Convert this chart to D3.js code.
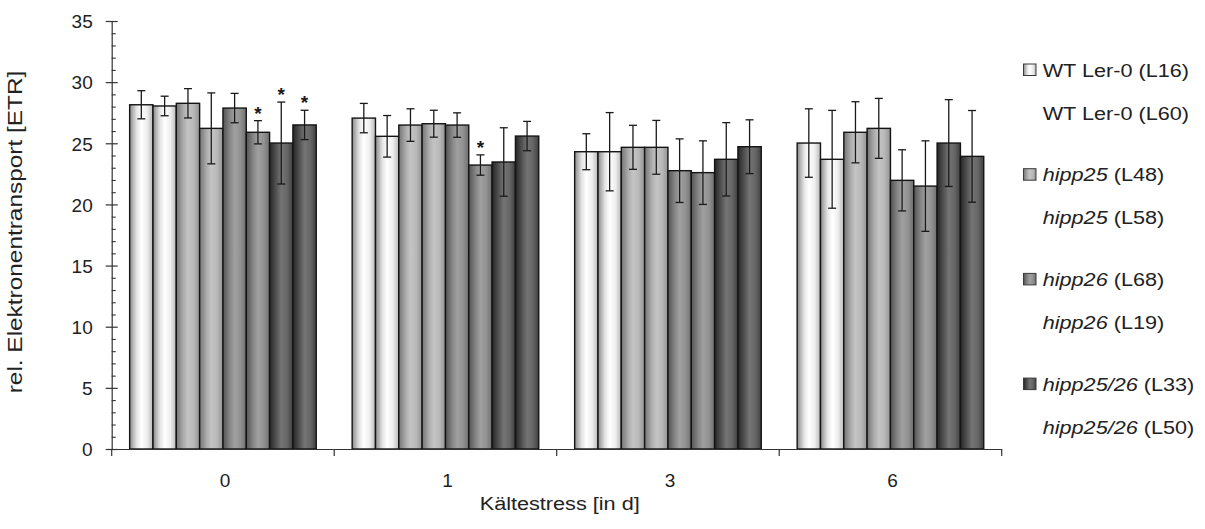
<!DOCTYPE html>
<html>
<head>
<meta charset="utf-8">
<script src="https://cdn.jsdelivr.net/npm/d3@7"></script>
<style>
  html, body { margin: 0; padding: 0; background: #fff; }
  svg { display: block; font-family: "Liberation Sans", Arial, sans-serif; }
</style>
</head>
<body>
<svg id="chart" width="1205" height="529"></svg>
<script>
// Cold stress duration (days) on the x axis
const days = ["0", "1", "3", "6"];

// Plant lines, in bar order
const lineIds = ["L16", "L60", "L48", "L58", "L68", "L19", "L33", "L50"];
const genotypes = ["WT Ler-0", "WT Ler-0", "hipp25", "hipp25", "hipp26", "hipp26", "hipp25/26", "hipp25/26"];

// Relative electron transport rate (mean per day)
const etrL16 = [28.15, 27.06, 24.31, 25.02];
const etrL60 = [28.05, 25.57, 24.31, 23.69];
const etrL48 = [28.27, 26.49, 24.67, 25.90];
const etrL58 = [26.22, 26.60, 24.67, 26.22];
const etrL68 = [27.88, 26.49, 22.76, 21.97];
const etrL19 = [25.90, 23.22, 22.60, 21.50];
const etrL33 = [25.02, 23.47, 23.69, 25.02];
const etrL50 = [26.50, 25.59, 24.72, 23.93];

// Standard deviations
const sdL16 = [1.15, 1.20, 1.47, 2.80];
const sdL60 = [0.80, 1.70, 3.20, 4.00];
const sdL48 = [1.20, 1.33, 1.80, 2.50];
const sdL58 = [2.90, 1.10, 2.20, 2.45];
const sdL68 = [1.20, 1.00, 2.60, 2.50];
const sdL19 = [0.95, 0.83, 2.60, 3.70];
const sdL33 = [3.35, 2.80, 3.00, 3.55];
const sdL50 = [1.20, 1.20, 2.20, 3.75];

// Significant differences (day, line)
const starred = [["0", "L19"], ["0", "L33"], ["0", "L50"], ["1", "L19"]];

// Y axis labels
const yTicks = [0, 5, 10, 15, 20, 25, 30, 35];

const means = [etrL16, etrL60, etrL48, etrL58, etrL68, etrL19, etrL33, etrL50];
const sds = [sdL16, sdL60, sdL48, sdL58, sdL68, sdL19, sdL33, sdL50];

// Cylinder-style shading, one ramp per genotype
const shades = [
  ["#8a8a8a", "#e4e4e4", "#ffffff", "#eeeeee", "#b8b8b8"],
  ["#747474", "#acacac", "#c4c4c4", "#b8b8b8", "#939393"],
  ["#545454", "#868686", "#a0a0a0", "#929292", "#6e6e6e"],
  ["#262626", "#555555", "#747474", "#666666", "#404040"]
];
const shadeOffsets = [0, 0.3, 0.5, 0.75, 1];

const plot = { left: 111.7, right: 1001.7, top: 21, bottom: 449 };
const svg = d3.select("#chart");
const textColor = "#222";

const defs = svg.append("defs");
shades.forEach((ramp, k) => {
  const g = defs.append("linearGradient").attr("id", "shade" + k)
    .attr("x1", "0").attr("x2", "1").attr("y1", "0").attr("y2", "0");
  ramp.forEach((c, j) => g.append("stop").attr("offset", shadeOffsets[j]).attr("stop-color", c));
});

const y = d3.scaleLinear().domain([0, 35]).range([plot.bottom, plot.top]);
const x0 = d3.scaleBand().domain(days).range([plot.left, plot.right]).padding(0);
const x1 = d3.scaleBand().domain(lineIds).range([0, x0.bandwidth()])
  .paddingInner(0).paddingOuter(0.77);

const rows = [];
days.forEach((d, di) => {
  lineIds.forEach((id, li) => {
    rows.push({ day: d, id, li, v: means[li][di], sd: sds[li][di] });
  });
});

// Bars
const groups = svg.append("g").selectAll("g").data(days).join("g")
  .attr("transform", d => `translate(${x0(d)},0)`);

groups.selectAll("rect")
  .data(d => rows.filter(r => r.day === d))
  .join("rect")
  .attr("x", r => x1(r.id))
  .attr("y", r => y(r.v))
  .attr("width", x1.bandwidth())
  .attr("height", r => y(0) - y(r.v))
  .attr("fill", r => `url(#shade${Math.floor(r.li / 2)})`)
  .attr("stroke", "#141414")
  .attr("stroke-width", 1.4);

// Error bars
const eb = groups.selectAll("g.err")
  .data(d => rows.filter(r => r.day === d))
  .join("g").attr("class", "err")
  .attr("stroke", "#1a1a1a").attr("stroke-width", 1.3);
eb.append("line")
  .attr("x1", r => x1(r.id) + x1.bandwidth() / 2)
  .attr("x2", r => x1(r.id) + x1.bandwidth() / 2)
  .attr("y1", r => y(r.v + r.sd))
  .attr("y2", r => y(r.v - r.sd));
[1, -1].forEach(s => {
  eb.append("line")
    .attr("x1", r => x1(r.id) + x1.bandwidth() / 2 - 4)
    .attr("x2", r => x1(r.id) + x1.bandwidth() / 2 + 4)
    .attr("y1", r => y(r.v + s * r.sd))
    .attr("y2", r => y(r.v + s * r.sd));
});

// Significance asterisks
groups.selectAll("text.star")
  .data(d => rows.filter(r => r.day === d && starred.some(s => s[0] === r.day && s[1] === r.id)))
  .join("text").attr("class", "star")
  .attr("x", r => x1(r.id) + x1.bandwidth() / 2)
  .attr("y", r => y(r.v + r.sd) - 1)
  .attr("text-anchor", "middle")
  .attr("font-size", 19)
  .attr("font-weight", "bold")
  .attr("fill", "#1a1a1a")
  .text("*");

// Y axis: crossing major ticks, inner minor ticks
const axisColor = "#333";
const yAxis = svg.append("g").attr("transform", `translate(${plot.left},0)`)
  .call(d3.axisLeft(y).tickValues(yTicks).tickSizeInner(6).tickSizeOuter(0));
yAxis.select(".domain").attr("stroke", axisColor).attr("stroke-width", 1.2);
yAxis.selectAll(".tick line").attr("x1", 6).attr("x2", -6)
  .attr("stroke", axisColor).attr("stroke-width", 1.2);
yAxis.selectAll(".tick text")
  .attr("x", -19).attr("dy", null).attr("y", 6.8)
  .attr("font-size", 19).attr("font-family", "Liberation Sans, Arial, sans-serif")
  .attr("fill", textColor);

const yMinor = svg.append("g").attr("transform", `translate(${plot.left},0)`)
  .call(d3.axisLeft(y).tickValues(d3.range(1, 35).filter(v => v % 5 !== 0))
    .tickSize(-4).tickFormat(""));
yMinor.select(".domain").remove();
yMinor.selectAll(".tick line").attr("stroke", axisColor).attr("stroke-width", 1.1);

// X axis with group separators
const xAxis = svg.append("g").attr("transform", `translate(0,${plot.bottom})`)
  .call(d3.axisBottom(x0).tickSize(0).tickSizeOuter(0));
xAxis.select(".domain").attr("stroke", axisColor).attr("stroke-width", 1.2);
xAxis.selectAll(".tick text")
  .attr("y", 38).attr("dy", null).attr("x", 2)
  .attr("font-size", 19).attr("font-family", "Liberation Sans, Arial, sans-serif")
  .attr("fill", textColor);
const bounds = days.map(d => x0(d)).concat([x0(days[days.length - 1]) + x0.bandwidth()]);
xAxis.selectAll("line.sep").data(bounds).join("line").attr("class", "sep")
  .attr("x1", d => d).attr("x2", d => d).attr("y1", 0).attr("y2", 7)
  .attr("stroke", axisColor).attr("stroke-width", 1.2);

// Axis titles
svg.append("text")
  .attr("transform", `translate(${(plot.left + plot.right) / 2 + 3},510) scale(1.14,1)`)
  .attr("text-anchor", "middle").attr("font-size", 19).attr("fill", textColor)
  .text("Kältestress [in d]");
svg.append("text")
  .attr("transform", "translate(22,232) rotate(-90) scale(1.22,1)")
  .attr("text-anchor", "middle").attr("font-size", 20).attr("fill", textColor)
  .text("rel. Elektronentransport [ETR]");

// Legend: one swatch per genotype, two lines each
const legend = svg.append("g");
lineIds.forEach((id, i) => {
  const pair = Math.floor(i / 2), second = i % 2;
  const yc = 70 + pair * 104.7 + second * 43;
  if (!second) {
    legend.append("rect").attr("x", 1023.5).attr("y", yc - 6).attr("width", 12.5).attr("height", 11.5)
      .attr("fill", `url(#shade${pair})`).attr("stroke", "#3a3a3a").attr("stroke-width", 1);
  }
  const t = legend.append("text")
    .attr("transform", `translate(1042.7,${yc + 6.5}) scale(1.17,1)`)
    .attr("font-size", 18.5).attr("fill", textColor);
  if (pair === 0) {
    t.text(`${genotypes[i]} (${id})`);
  } else {
    t.append("tspan").attr("font-style", "italic").text(genotypes[i]);
    t.append("tspan").text(` (${id})`);
  }
});
</script>
</body>
</html>
